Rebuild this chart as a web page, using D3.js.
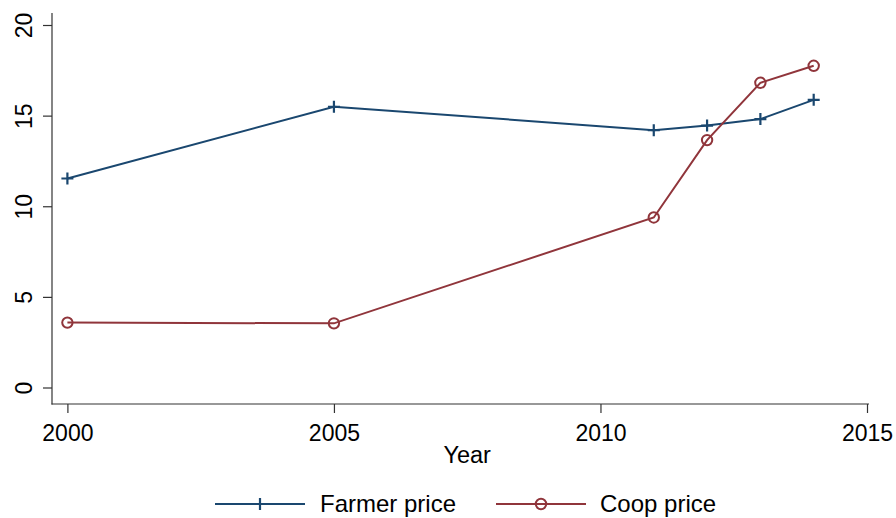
<!DOCTYPE html>
<html>
<head>
<meta charset="utf-8">
<script src="https://cdn.jsdelivr.net/npm/d3@7"></script>
<style>
  body { margin: 0; background: #fff; }
  text { font-family: "Liberation Sans", Arial, sans-serif; fill: #000; }
</style>
</head>
<body>
<div id="chart"></div>
<script>
const years = [2000, 2005, 2011, 2012, 2013, 2014];
const farmerPrice = [11.53, 15.49, 14.2, 14.45, 14.81, 15.87];
const coopPrice = [3.58, 3.54, 9.38, 13.65, 16.81, 17.75];
const xTicks = [2000, 2005, 2010, 2015];
const yTicks = [0, 5, 10, 15, 20];

const width = 896, height = 518;
const navy = '#1a476f', maroon = '#90353b';

const svg = d3.select('#chart').append('svg')
  .attr('width', width)
  .attr('height', height);

const x = d3.scaleLinear().domain([2000, 2015]).range([67.4, 867]);
const y = d3.scaleLinear().domain([0, 20]).range([387.5, 25]);

// axes (domain lines drawn by hand so they run past the end ticks)
const xAxis = svg.append('g')
  .attr('transform', 'translate(0,404)')
  .call(d3.axisBottom(x).tickValues(xTicks).tickFormat(d3.format('d')).tickSize(9).tickPadding(12));
xAxis.select('.domain').remove();
xAxis.selectAll('text').attr('font-size', 23).attr('font-family', '"Liberation Sans", Arial, sans-serif');

const yAxis = svg.append('g')
  .attr('transform', 'translate(52,0)')
  .call(d3.axisLeft(y).tickValues(yTicks).tickSize(9));
yAxis.select('.domain').remove();
yAxis.selectAll('text')
  .attr('font-size', 23)
  .attr('font-family', '"Liberation Sans", Arial, sans-serif')
  .attr('text-anchor', 'middle')
  .attr('dy', null)
  .attr('x', null)
  .attr('transform', 'translate(-20,0) rotate(-90)');

svg.selectAll('.tick line').attr('stroke', '#333').attr('stroke-width', 1.2);

svg.append('line').attr('x1', 52).attr('x2', 52).attr('y1', 13).attr('y2', 404.5)
  .attr('stroke', '#333').attr('stroke-width', 1.2);
svg.append('line').attr('x1', 51.5).attr('x2', 869).attr('y1', 404).attr('y2', 404)
  .attr('stroke', '#333').attr('stroke-width', 1.2);

svg.append('text')
  .attr('x', x(2007.5)).attr('y', 463)
  .attr('text-anchor', 'middle')
  .attr('font-size', 23.5)
  .text('Year');

const line = d3.line()
  .x(d => x(d[0]))
  .y(d => y(d[1]));

const farmer = years.map((yr, i) => [yr, farmerPrice[i]]);
const coop = years.map((yr, i) => [yr, coopPrice[i]]);

function plus(g, cx, cy, color) {
  g.append('path')
    .attr('d', `M${cx - 6},${cy}H${cx + 6}M${cx},${cy - 6}V${cy + 6}`)
    .attr('stroke', color).attr('stroke-width', 2.2).attr('fill', 'none');
}
function ring(g, cx, cy, color) {
  g.append('circle')
    .attr('cx', cx).attr('cy', cy).attr('r', 5.2)
    .attr('stroke', color).attr('stroke-width', 2).attr('fill', 'none');
}

svg.append('path').datum(farmer).attr('d', line)
  .attr('fill', 'none').attr('stroke', navy).attr('stroke-width', 2);
svg.append('path').datum(coop).attr('d', line)
  .attr('fill', 'none').attr('stroke', maroon).attr('stroke-width', 2);

const marks = svg.append('g');
farmer.forEach(d => plus(marks, x(d[0]), y(d[1]), navy));
coop.forEach(d => ring(marks, x(d[0]), y(d[1]), maroon));

// legend
const leg = svg.append('g');
const ly = 504;
leg.append('line').attr('x1', 215).attr('x2', 305).attr('y1', ly).attr('y2', ly)
  .attr('stroke', navy).attr('stroke-width', 2);
plus(leg, 260, ly, navy);
leg.append('text').attr('x', 320).attr('y', ly + 8).attr('font-size', 24).text('Farmer price');

leg.append('line').attr('x1', 496).attr('x2', 586).attr('y1', ly).attr('y2', ly)
  .attr('stroke', maroon).attr('stroke-width', 2);
ring(leg, 541, ly, maroon);
leg.append('text').attr('x', 600).attr('y', ly + 8).attr('font-size', 24).text('Coop price');
</script>
</body>
</html>
